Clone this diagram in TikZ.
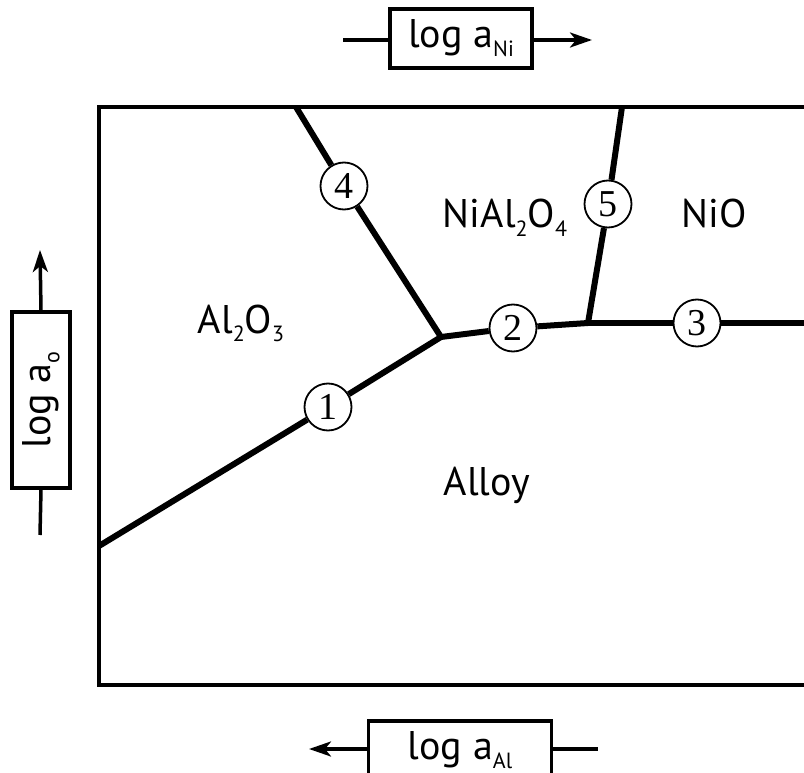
\documentclass[tikz,border=0pt]{standalone}
\usepackage{fontspec}
\setmainfont{PT Sans}
\newfontfamily\numfont{Liberation Serif}
\usetikzlibrary{arrows.meta}
\newcommand\lowsub[1]{\raisebox{-0.22em}{\fontsize{22pt}{22pt}\selectfont #1}}
\begin{document}
\begin{tikzpicture}[x=1pt,y=-1pt,
  frame/.style={line width=3.5pt},
  phase/.style={line width=6pt},
  num/.style={circle,draw,line width=1.8pt,fill=white,minimum size=47pt,inner sep=0pt,font=\numfont\fontsize{38pt}{38pt}\selectfont},
  region/.style={font=\fontsize{40pt}{40pt}\selectfont,anchor=base},
  labelbox/.style={draw,line width=3.5pt,fill=white,inner sep=0pt,font=\fontsize{40pt}{40pt}\selectfont},
  axis/.style={line width=3.5pt},
  tip/.style={-{Stealth[length=22pt,width=15pt,inset=6pt]}}]
\useasboundingbox (0,0) rectangle (804,773);
\clip (0,0) rectangle (804,773);
% frame
\draw[frame] (830,107) -- (99,107) -- (99,685) -- (830,685);
% junctions and ends
\coordinate (A) at (441,337);
\coordinate (B) at (588,323);
\coordinate (e1) at (99,546);
\coordinate (e4) at (296,107);
\coordinate (e5) at (622,107);
\coordinate (e3) at (830,323);
% circled labels
\node[num] (c1) at (328,407) {1};
\node[num] (c2) at (513,328) {2};
\node[num] (c3) at (697,323) {3};
\node[num] (c4) at (344,186) {4};
\node[num] (c5) at (608,204) {5};
% phase boundaries
\draw[phase] (e1) -- (c1) -- (A);
\draw[phase] (e4) -- (c4) -- (A);
\draw[phase] (A) -- (c2) -- (B);
\draw[phase] (B) -- (c5) -- (e5);
\draw[phase] (B) -- (c3) -- (e3);
% region labels
\node[region] (al2o3) at (241,333) {Al\lowsub{2}O\lowsub{3}};
\node[region] (spinel) at (505,228) {NiAl\lowsub{2}O\lowsub{4}};
\node[region] (nio) at (714,227) {NiO};
\node[region] (alloy) at (487,495) {Alloy};
% axis labels
\node[labelbox,minimum width=142pt,minimum height=59pt] (top) at (461,38.5) {log a\lowsub{Ni}};
\coordinate (tl) at (343,40);
\coordinate (tr) at (592,40);
\draw[axis] (tl) -- (top.west |- tl);
\draw[axis,tip] (top.east |- tr) -- (tr);
\node[labelbox,rotate=90,minimum width=176pt,minimum height=58pt] (left) at (41,400) {log a\lowsub{o}};
\coordinate (lt) at (40,250);
\coordinate (lb) at (40,535);
\draw[axis,tip] (left.east) -- (lt);
\draw[axis] (left.west) -- (lb);
\node[labelbox,minimum width=183pt,minimum height=58pt] (bot) at (460,750) {log a\lowsub{Al}};
\coordinate (bl) at (309,749);
\coordinate (br) at (598,749);
\draw[axis,tip] (bot.west |- bl) -- (bl);
\draw[axis] (bot.east |- br) -- (br);
\end{tikzpicture}
\end{document}
